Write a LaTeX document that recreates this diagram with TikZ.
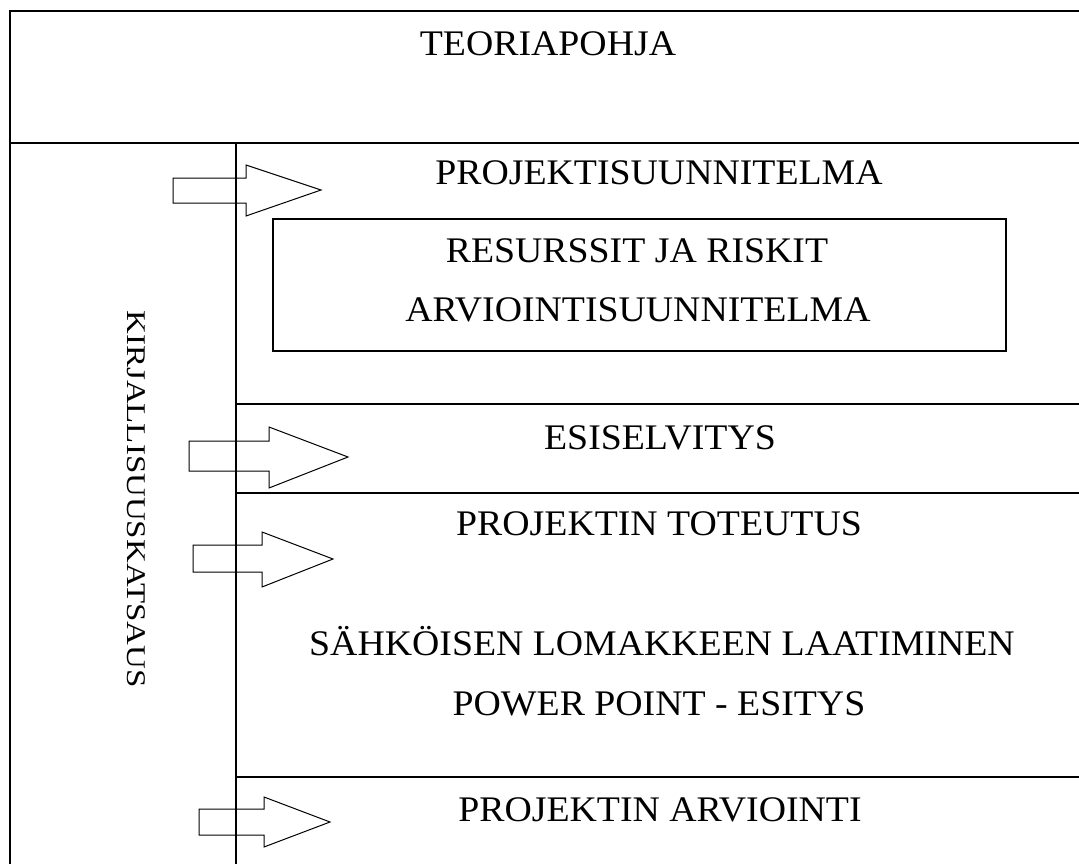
\documentclass[tikz,border=0pt]{standalone}
\usepackage{fontspec}
\setmainfont{Liberation Serif}
\usepackage{graphicx}
\tikzset{
  frame/.style={line width=1.5pt, draw=black},
  blockarrow/.style={line width=1pt, draw=black},
  lbl/.style={anchor=base, inner sep=0pt, font=\fontsize{36}{40}\selectfont},
  vlbl/.style={anchor=base, inner sep=0pt, rotate=-90, font=\fontsize{27}{30}\selectfont}
}
\newcommand{\wide}[1]{\scalebox{1.05}[1]{#1}}
\begin{document}
\begin{tikzpicture}[x=1pt,y=-1pt]
\useasboundingbox (0,0) rectangle (1079,864);
% coordinates
\coordinate (tl) at (10,11);
\coordinate (tr) at (1079,11);
\coordinate (bl) at (10,864);
\coordinate (ml) at (10,143);
\coordinate (mr) at (1079,143);
\coordinate (dt) at (236,143);
\coordinate (db) at (236,864);
\coordinate (l1a) at (236,404); \coordinate (l1b) at (1079,404);
\coordinate (l2a) at (236,493); \coordinate (l2b) at (1079,493);
\coordinate (l3a) at (236,777); \coordinate (l3b) at (1079,777);
% frame lines
\draw[frame] (tr) -- (tl) -- (bl);
\draw[frame] (ml) -- (mr);
\draw[frame] (dt) -- (db);
\draw[frame] (l1a) -- (l1b);
\draw[frame] (l2a) -- (l2b);
\draw[frame] (l3a) -- (l3b);
% inner box
\draw[line width=1.3pt] (273,219) rectangle (1006,351);
% block arrows
\draw[blockarrow] (173,178) -- (246,178) -- (246,165) -- (321,190) -- (246,216) -- (246,203) -- (173,203) -- cycle;
\draw[blockarrow] (189,441) -- (269,441) -- (269,427) -- (348,457) -- (269,488) -- (269,471) -- (189,471) -- cycle;
\draw[blockarrow] (193,545) -- (262,545) -- (262,532) -- (333,559) -- (262,587) -- (262,572) -- (193,572) -- cycle;
\draw[blockarrow] (199,809) -- (264,809) -- (264,797) -- (330,822) -- (264,847) -- (264,835) -- (199,835) -- cycle;
% texts
\node[lbl] (teoria) at (548,56) {\wide{TEORIAPOHJA}};
\node[lbl] (projsuun) at (659,184) {\wide{PROJEKTISUUNNITELMA}};
\node[lbl] (resurssit) at (637,262) {\wide{RESURSSIT JA RISKIT}};
\node[lbl] (arviointi) at (638,321) {\wide{ARVIOINTISUUNNITELMA}};
\node[lbl] (esisel) at (660,449) {\wide{ESISELVITYS}};
\node[lbl] (toteutus) at (659,535) {\wide{PROJEKTIN TOTEUTUS}};
\node[lbl] (sahkoinen) at (662,655) {\wide{SÄHKÖISEN LOMAKKEEN LAATIMINEN}};
\node[lbl] (powerpoint) at (659,715) {\wide{POWER POINT - ESITYS}};
\node[lbl] (projarv) at (660,821) {\wide{PROJEKTIN ARVIOINTI}};
\node[vlbl] (kirj) at (127,499) {\scalebox{1.22}[1]{KIRJALLISUUSKATSAUS}};
\end{tikzpicture}
\end{document}
